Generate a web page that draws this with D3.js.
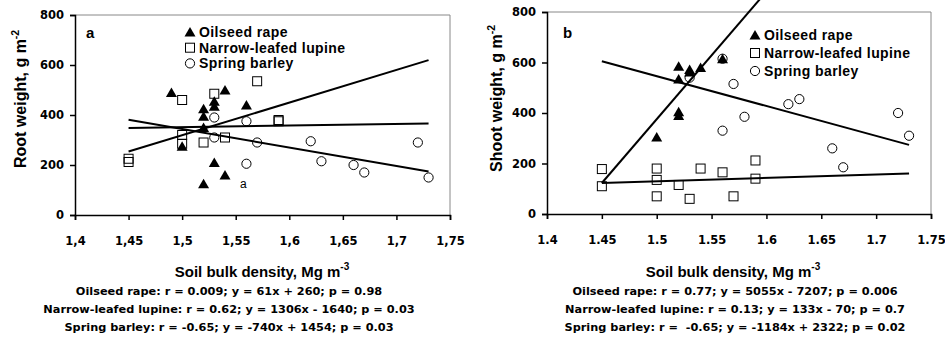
<!DOCTYPE html>
<html>
<head>
<meta charset="utf-8">
<script src="https://cdn.jsdelivr.net/npm/d3@7"></script>
<style>
  body { margin: 0; background: #fff; }
  svg { font-family: Arial, "Liberation Sans", sans-serif; }
  .tick text { font-family: "DejaVu Sans", sans-serif; font-weight: bold; font-size: 11.5px; }
  .eq { font-family: "DejaVu Sans", sans-serif; font-weight: bold; font-size: 11.3px; white-space: pre; }
  .legend { font-weight: bold; font-size: 14px; letter-spacing: 0.4px; }
</style>
</head>
<body>
<svg width="945" height="340"></svg>
<script>
// data
var xTicks = [1.4, 1.45, 1.5, 1.55, 1.6, 1.65, 1.7, 1.75];
var yTicks = [0, 200, 400, 600, 800];
var seriesNames = ["Oilseed rape", "Narrow-leafed lupine", "Spring barley"];
var fitRange = [1.45, 1.73];

// panel a: root weight
var rootRapeX = [1.49, 1.50, 1.52, 1.52, 1.52, 1.52, 1.53, 1.53, 1.53, 1.54, 1.54, 1.56];
var rootRapeY = [490, 275, 425, 395, 350, 125, 455, 435, 210, 500, 160, 440];
var rootLupineX = [1.45, 1.45, 1.50, 1.50, 1.50, 1.52, 1.53, 1.54, 1.57, 1.59, 1.59];
var rootLupineY = [225, 212, 460, 320, 285, 290, 485, 310, 535, 380, 375];
var rootBarleyX = [1.53, 1.53, 1.56, 1.56, 1.57, 1.62, 1.63, 1.66, 1.67, 1.72, 1.73];
var rootBarleyY = [390, 310, 375, 205, 290, 295, 215, 200, 170, 290, 150];
var rootSlopes = [61, 1306, -740];
var rootIntercepts = [260, -1640, 1454];
var rootEquations = [
  "Oilseed rape: r = 0.009; y = 61x + 260; p = 0.98",
  "Narrow-leafed lupine: r = 0.62; y = 1306x - 1640; p = 0.03",
  "Spring barley: r = -0.65; y = -740x + 1454; p = 0.03"
];

// panel b: shoot weight
var shootRapeX = [1.50, 1.52, 1.52, 1.52, 1.52, 1.53, 1.53, 1.54, 1.56];
var shootRapeY = [305, 585, 535, 405, 390, 572, 562, 580, 615];
var shootLupineX = [1.45, 1.45, 1.50, 1.50, 1.50, 1.52, 1.53, 1.54, 1.56, 1.57, 1.59, 1.59];
var shootLupineY = [178, 110, 180, 135, 70, 115, 60, 180, 165, 70, 212, 140];
var shootBarleyX = [1.53, 1.56, 1.56, 1.57, 1.58, 1.62, 1.63, 1.66, 1.67, 1.72, 1.73];
var shootBarleyY = [540, 615, 330, 515, 385, 435, 455, 260, 185, 400, 310];
var shootSlopes = [5055, 133, -1184];
var shootIntercepts = [-7207, -70, 2322];
var shootEquations = [
  "Oilseed rape: r = 0.77; y = 5055x - 7207; p = 0.006",
  "Narrow-leafed lupine: r = 0.13; y = 133x - 70; p = 0.7",
  "Spring barley: r =  -0.65; y = -1184x + 2322; p = 0.02"
];

var svg = d3.select("svg");

function zip(xs, ys) {
  return xs.map(function(x, i) { return {x: x, y: ys[i]}; });
}

function drawMarker(g, kind, cx, cy) {
  if (kind === 0) {
    g.append("path")
      .attr("d", "M" + cx + "," + (cy - 5) + "L" + (cx + 5.5) + "," + (cy + 4.5) + "L" + (cx - 5.5) + "," + (cy + 4.5) + "Z")
      .attr("fill", "#000");
  } else if (kind === 1) {
    g.append("rect")
      .attr("x", cx - 4.5).attr("y", cy - 4.5)
      .attr("width", 9).attr("height", 9)
      .attr("fill", "none").attr("stroke", "#000").attr("stroke-width", 1);
  } else {
    g.append("circle")
      .attr("cx", cx).attr("cy", cy).attr("r", 4.6)
      .attr("fill", "none").attr("stroke", "#000").attr("stroke-width", 1);
  }
}

function drawPanel(p) {
  var x = d3.scaleLinear().domain([1.4, 1.75]).range([p.left, p.right]);
  var y = d3.scaleLinear().domain([0, 800]).range([p.bottom, p.top]);
  var g = svg.append("g");

  //grey frame on top and right
  g.append("path")
    .attr("d", "M" + p.left + "," + p.top + "H" + p.right + "V" + p.bottom)
    .attr("fill", "none").attr("stroke", "#888").attr("stroke-width", 1);

  var xAxis = g.append("g")
    .attr("transform", "translate(0," + p.bottom + ")")
    .call(d3.axisBottom(x).tickValues(xTicks).tickSize(5).tickPadding(17)
      .tickFormat(function(d) { return p.comma ? String(d).replace(".", ",") : String(d); }));
  var yAxis = g.append("g")
    .attr("transform", "translate(" + p.left + ",0)")
    .call(d3.axisLeft(y).tickValues(yTicks).tickSize(5).tickPadding(6));
  [xAxis, yAxis].forEach(function(a) {
    a.select(".domain").attr("stroke-width", 1.5);
    a.selectAll(".tick line").attr("stroke-width", 1.5);
    a.selectAll(".tick text").attr("fill", "#000");
  });

  //points, one series after another
  p.series.forEach(function(s, k) {
    s.forEach(function(d) { drawMarker(g, k, x(d.x), y(d.y)); });
  });

  //trend lines
  p.slopes.forEach(function(m, k) {
    var pts = fitRange.map(function(v) { return [x(v), y(m * v + p.intercepts[k])]; });
    g.append("path")
      .attr("d", d3.line()(pts))
      .attr("stroke", "#000").attr("stroke-width", 2).attr("fill", "none");
  });

  //legend
  seriesNames.forEach(function(name, k) {
    var ly = p.legendY[k];
    drawMarker(g, k, p.legendX, ly);
    g.append("text")
      .attr("class", "legend")
      .attr("x", p.legendX + 9).attr("y", ly + 5)
      .text(name);
  });

  g.append("text")
    .attr("x", p.letterX).attr("y", 38)
    .attr("font-size", 15).attr("font-weight", "bold")
    .text(p.letter);

  //axis titles
  var xt = g.append("text")
    .attr("x", p.xTitleX).attr("y", 277)
    .attr("text-anchor", "middle")
    .attr("font-size", 15).attr("font-weight", "bold")
    .text("Soil bulk density, Mg m");
  xt.append("tspan").attr("dy", -7).attr("font-size", 10).text("-3");

  var yt = g.append("text")
    .attr("transform", "translate(" + p.yTitleX + "," + p.yTitleY + ") rotate(-90)")
    .attr("font-size", 16).attr("font-weight", "bold")
    .text(p.yTitle);
  yt.append("tspan").attr("dy", -7).attr("font-size", 10.5).text("-2");

  p.equations.forEach(function(t, k) {
    g.append("text")
      .attr("class", "eq")
      .attr("x", p.eqX).attr("y", 295 + k * 18)
      .attr("text-anchor", "middle")
      .text(t);
  });
}

drawPanel({
  left: 75, right: 450, top: 15, bottom: 215, comma: true,
  series: [zip(rootRapeX, rootRapeY), zip(rootLupineX, rootLupineY), zip(rootBarleyX, rootBarleyY)],
  slopes: rootSlopes, intercepts: rootIntercepts, equations: rootEquations,
  legendX: 190, legendY: [32, 47.7, 63.4], letter: "a", letterX: 86,
  xTitleX: 262, yTitleX: 26, yTitleY: 168, yTitle: "Root weight, g m", eqX: 229
});

drawPanel({
  left: 547, right: 931, top: 12, bottom: 214, comma: false,
  series: [zip(shootRapeX, shootRapeY), zip(shootLupineX, shootLupineY), zip(shootBarleyX, shootBarleyY)],
  slopes: shootSlopes, intercepts: shootIntercepts, equations: shootEquations,
  legendX: 755, legendY: [35, 53, 71], letter: "b", letterX: 563,
  xTitleX: 733, yTitleX: 502, yTitleY: 172, yTitle: "Shoot weight, g m", eqX: 735
});

// small note next to a point in panel a
svg.append("text")
  .attr("x", 240).attr("y", 188)
  .attr("font-size", 12)
  .text("a");
</script>
</body>
</html>
